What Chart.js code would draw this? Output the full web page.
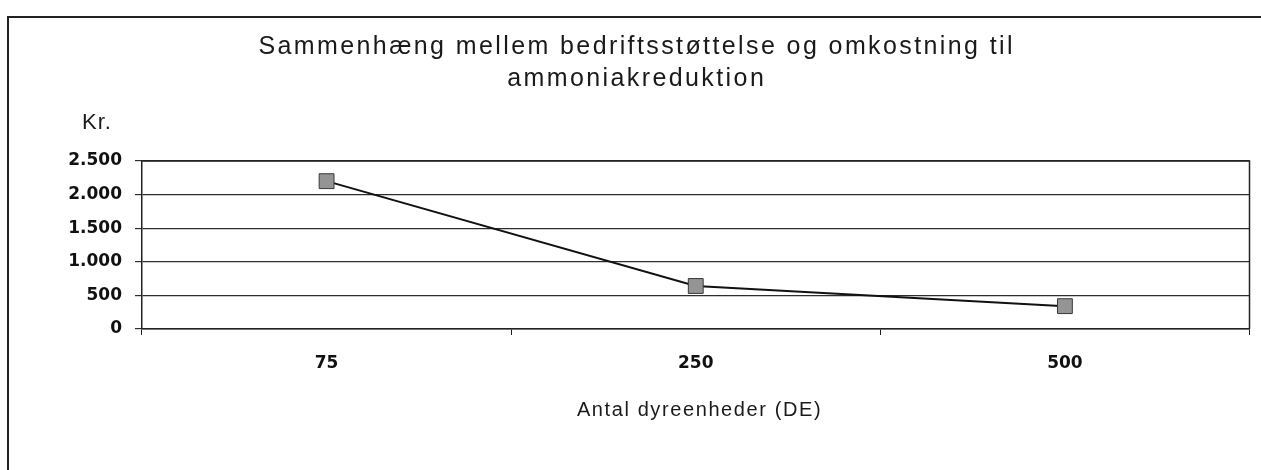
<!DOCTYPE html>
<html lang="da">
<head>
<meta charset="utf-8">
<title>Sammenhæng mellem bedriftsstøttelse og omkostning</title>
<script src="https://cdn.jsdelivr.net/npm/chart.js@4/dist/chart.umd.min.js"></script>
<style>
    html, body {
        margin: 0;
        padding: 0;
        background: #ffffff;
    }
    #ramme {
        position: relative;
        width: 1261px;
        height: 470px;
        overflow: hidden;
    }
    #kant {
        position: absolute;
        left: 7px;
        top: 16px;
        width: 1300px;
        height: 500px;
        border: 2px solid #222222;
        box-sizing: border-box;
    }
    #graf-boks {
        position: absolute;
        left: 0;
        top: 0;
        width: 1261px;
        height: 470px;
    }
</style>
</head>
<body>
<div id="ramme">
    <div id="kant"></div>
    <div id="graf-boks">
        <canvas id="graf"></canvas>
    </div>
</div>
<script>
// Data
const kategorier = ['75', '250', '500'];
const omkostning = [2200, 640, 340];
const yAkseTicks = [0, 500, 1000, 1500, 2000, 2500];

const titel = ['Sammenhæng mellem bedriftsstøttelse og omkostning til', 'ammoniakreduktion'];
const xTitel = 'Antal dyreenheder (DE)';
const yEnhed = 'Kr.';

// Tal med punktum som tusindtalsseparator
function formaterTal(v) {
    return String(v).replace(/\B(?=(\d{3})+(?!\d))/g, '.');
}

// Tekst med spatiering (scannet figur har bred skrift)
function skrivTekst(ctx, tekst, x, y, font, afstand, justering) {
    ctx.font = font;
    ctx.letterSpacing = afstand + 'px';
    ctx.textAlign = justering;
    ctx.textBaseline = 'middle';
    const forskyd = justering === 'center' ? afstand / 2 : 0;
    ctx.fillText(tekst, x + forskyd, y);
}

// Titel, aksetitel, "Kr." og rammen om plotområdet
const plotRamme = {
    id: 'plotRamme',
    afterDraw: function (chart) {
        const ctx = chart.ctx;
        const a = chart.chartArea;
        ctx.save();
        ctx.strokeStyle = '#222222';
        ctx.lineWidth = 1.5;
        ctx.beginPath();
        ctx.moveTo(a.left, a.top);
        ctx.lineTo(a.right, a.top);
        ctx.lineTo(a.right, a.bottom);
        ctx.stroke();

        ctx.fillStyle = '#1a1a1a';
        const titelFont = '25px "Liberation Sans", Arial, sans-serif';
        const midt = chart.width / 2 + 5;
        skrivTekst(ctx, titel[0], midt, 47, titelFont, 2.4, 'center');
        skrivTekst(ctx, titel[1], midt, 79, titelFont, 2.4, 'center');

        skrivTekst(ctx, yEnhed, 82, a.top - 38, '22px "Liberation Sans", Arial, sans-serif', 1, 'left');

        const xMidt = (a.left + a.right) / 2 + 3;
        skrivTekst(ctx, xTitel, xMidt, 410, '20px "Liberation Sans", Arial, sans-serif', 1.6, 'center');
        ctx.restore();
    },
};

const canvas = document.getElementById('graf');

new Chart(canvas, {
    type: 'line',
    data: {
        labels: kategorier,
        datasets: [
            {
                label: 'Omkostning',
                data: omkostning,
                borderColor: '#111111',
                borderWidth: 2,
                tension: 0,
                fill: false,
                pointStyle: 'rect',
                pointRadius: 10.5,
                pointBackgroundColor: '#949494',
                pointBorderColor: '#3a3a3a',
                pointBorderWidth: 1,
            },
        ],
    },
    options: {
        responsive: true,
        maintainAspectRatio: false,
        animation: false,
        layout: {
            padding: { left: 0, right: 10, top: 161, bottom: 0 },
        },
        plugins: {
            legend: { display: false },
            tooltip: { enabled: false },
            title: { display: false },
        },
        scales: {
            x: {
                offset: true,
                grid: {
                    offset: true,
                    drawOnChartArea: false,
                    tickLength: 6,
                    color: '#222222',
                },
                border: { color: '#222222', width: 1.5 },
                ticks: {
                    color: '#111111',
                    padding: 18,
                    font: { family: '"DejaVu Sans", sans-serif', size: 17, weight: 'bold' },
                },
                afterFit: function (scale) {
                    scale.height = 141;
                },
            },
            y: {
                min: 0,
                max: 2500,
                afterBuildTicks: function (scale) {
                    scale.ticks = yAkseTicks.map(function (v) { return { value: v }; });
                },
                grid: {
                    color: '#2e2e2e',
                    lineWidth: 1.2,
                    tickLength: 7,
                },
                border: { color: '#222222', width: 1.5 },
                ticks: {
                    color: '#111111',
                    padding: 13,
                    font: { family: '"DejaVu Sans", sans-serif', size: 17, weight: 'bold' },
                    callback: function (v) {
                        return formaterTal(v);
                    },
                },
                afterFit: function (scale) {
                    scale.width = 142;
                },
            },
        },
    },
    plugins: [plotRamme],
});
</script>
</body>
</html>
